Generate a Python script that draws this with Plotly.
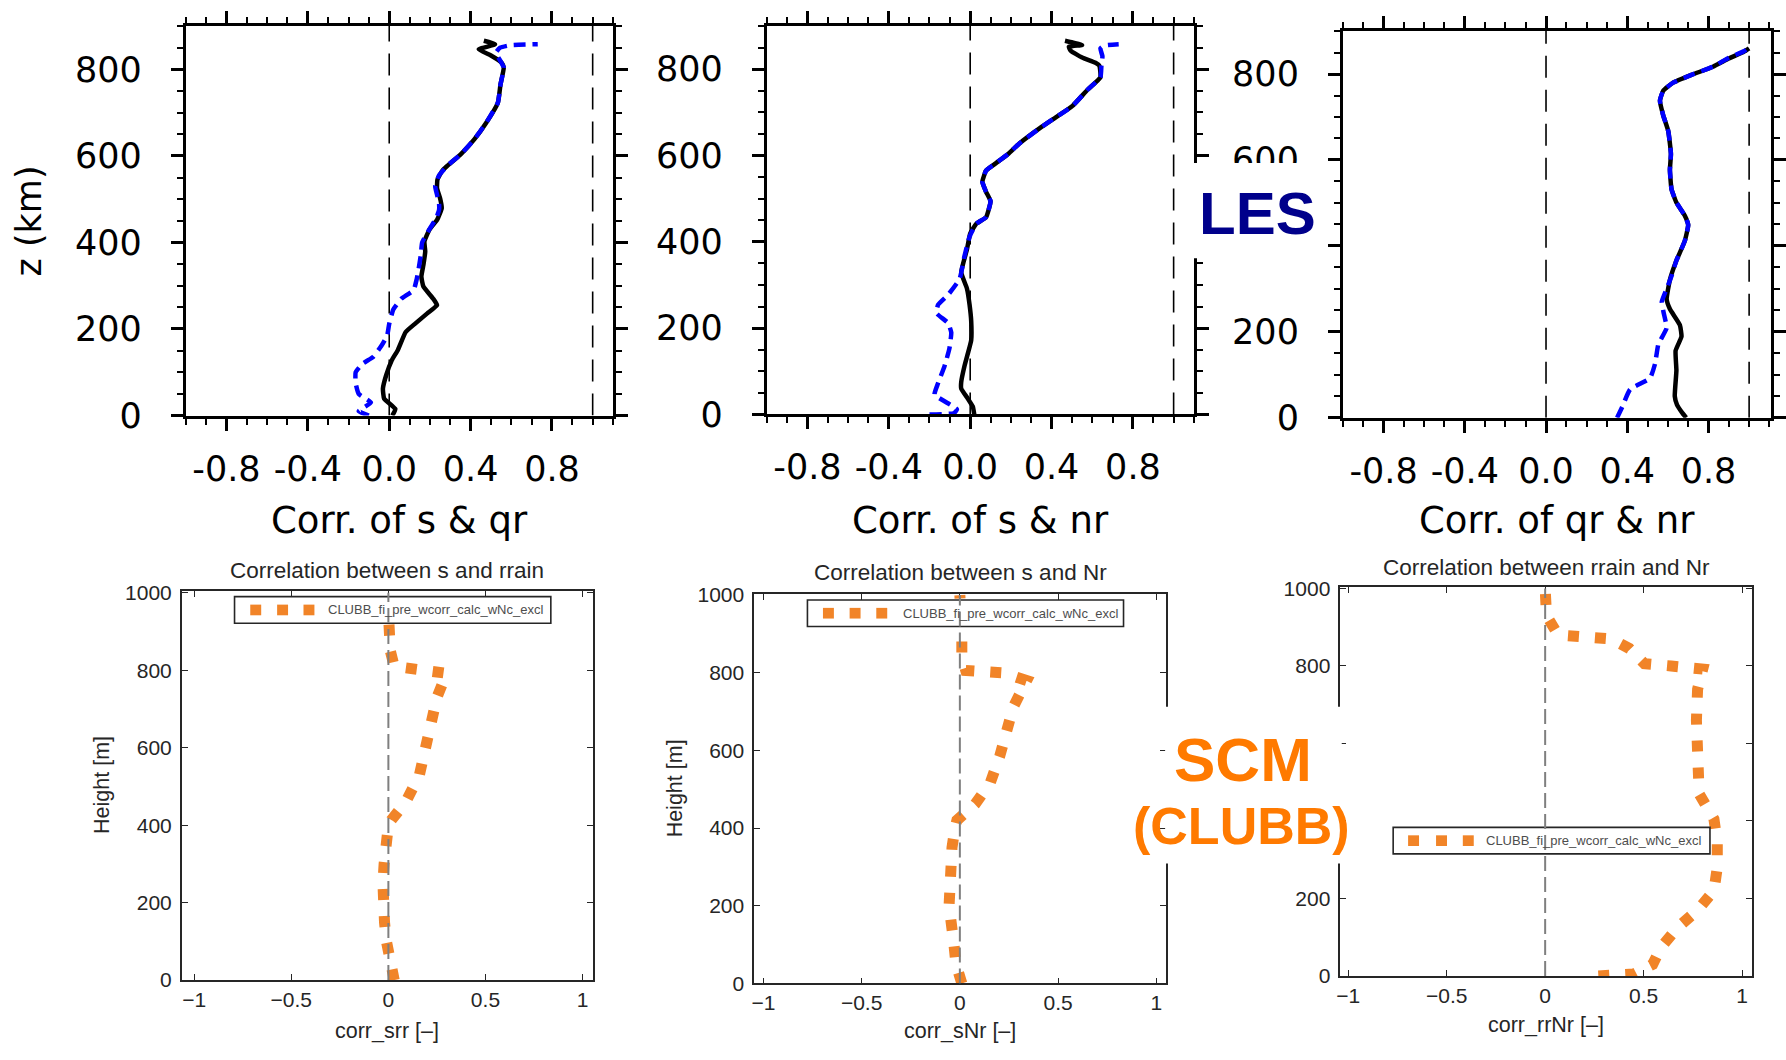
import plotly.graph_objects as go

W, H = 1786, 1060

# ---------------- LES profiles (top row) ----------------
# solid black = full-domain statistic, dashed blue = second LES estimate
les_sqr_z_solid = [0, 15, 39, 62, 93, 128, 151, 193, 213, 236, 255, 270, 298, 321, 348, 379, 402,
                   429, 452, 479, 502, 525, 545, 565, 576, 603, 638, 676, 723, 765, 804, 815, 832,
                   846, 858, 866]
les_sqr_solid = [0.015, 0.03, -0.025, -0.031, -0.015, 0.013, 0.042, 0.081, 0.129, 0.187, 0.235,
                 0.216, 0.168, 0.158, 0.168, 0.177, 0.173, 0.197, 0.235, 0.258, 0.25, 0.235, 0.237,
                 0.26, 0.283, 0.35, 0.418, 0.476, 0.534, 0.547, 0.563, 0.553, 0.50, 0.44, 0.52, 0.465]
les_sqr_z_dash = [0, 10, 30, 50, 75, 100, 120, 135, 160, 185, 212, 245, 270, 290, 315, 340, 370,
                  400, 430, 455, 475, 490, 510, 530, 555, 576, 603, 638, 676, 723, 765, 804, 819,
                  838, 850, 856, 858]
les_sqr_dash = [-0.10, -0.15, -0.09, -0.15, -0.165, -0.165, -0.13, -0.08, -0.04, -0.01, 0.0, 0.02,
                0.06, 0.12, 0.135, 0.145, 0.155, 0.162, 0.197, 0.23, 0.245, 0.245, 0.235, 0.226,
                0.245, 0.283, 0.35, 0.418, 0.476, 0.534, 0.547, 0.563, 0.547, 0.524, 0.545, 0.60, 0.73]

les_snr_z_solid = [0, 18, 37, 60, 75, 112, 142, 172, 216, 254, 292, 329, 382, 419, 442, 457, 494,
                   516, 539, 565, 580, 603, 628, 664, 688, 715, 753, 781, 808, 815, 827, 843, 852,
                   856, 862, 866]
les_snr_solid = [0.02, 0.013, -0.012, -0.044, -0.044, -0.028, -0.011, 0.005, 0.005, -0.003, -0.016,
                 -0.044, -0.016, 0.0, 0.03, 0.078, 0.10, 0.078, 0.06, 0.078, 0.12, 0.185, 0.242,
                 0.344, 0.419, 0.503, 0.578, 0.64, 0.635, 0.616, 0.55, 0.494, 0.485, 0.55, 0.503, 0.466]
les_snr_z_dash = [0, 3, 12, 46, 71, 112, 153, 190, 212, 235, 254, 277, 314, 367, 412, 442, 457,
                  494, 516, 539, 565, 580, 603, 628, 664, 688, 715, 753, 781, 808, 830, 848, 855, 858]
les_snr_dash = [-0.20, -0.08, -0.065, -0.175, -0.159, -0.126, -0.102, -0.093, -0.109, -0.166,
                -0.158, -0.109, -0.052, -0.028, -0.003, 0.03, 0.078, 0.10, 0.078, 0.06, 0.078, 0.12,
                0.185, 0.242, 0.344, 0.419, 0.503, 0.578, 0.64, 0.645, 0.65, 0.64, 0.66, 0.73]

les_qrnr_z_solid = [0, 12, 30, 50, 110, 156, 189, 216, 253, 276, 321, 366, 411, 449, 471, 501, 532,
                    577, 614, 667, 704, 738, 761, 780, 798, 817, 836, 852, 860]
les_qrnr_solid = [0.69, 0.67, 0.645, 0.634, 0.642, 0.638, 0.667, 0.659, 0.61, 0.594, 0.61, 0.642,
                  0.683, 0.70, 0.683, 0.642, 0.618, 0.61, 0.615, 0.602, 0.577, 0.561, 0.577, 0.626,
                  0.716, 0.822, 0.90, 0.974, 1.0]
les_qrnr_z_dash = [0, 24, 66, 92, 126, 171, 209, 247, 270, 300, 330, 366, 411, 449, 471, 501, 532,
                   577, 614, 667, 704, 738, 761, 780, 798, 817, 838, 853, 862]
les_qrnr_dash = [0.35, 0.374, 0.414, 0.512, 0.537, 0.553, 0.594, 0.578, 0.57, 0.594, 0.618, 0.642,
                 0.683, 0.70, 0.683, 0.642, 0.618, 0.61, 0.615, 0.602, 0.577, 0.561, 0.577, 0.626,
                 0.716, 0.822, 0.90, 0.974, 1.0]

# ---------------- SCM (CLUBB) profiles (bottom row) ----------------
scm_srr_z = [0, 40, 100, 150, 200, 250, 300, 350, 400, 414, 460, 530, 600, 670, 730, 792, 802, 810,
             850, 900, 950, 1000]
scm_srr = [0.03, 0.01, -0.01, -0.02, -0.03, -0.028, -0.022, -0.018, 0.0, 0.016, 0.09, 0.16, 0.19,
           0.22, 0.25, 0.30, 0.17, 0.03, 0.01, 0.0, 0.0, 0.0]

scm_snr_z = [0, 50, 100, 150, 200, 250, 300, 350, 400, 420, 462, 517, 587, 650, 712, 780, 800, 806,
             840, 900, 950, 1000]
scm_snr = [0.01, -0.02, -0.03, -0.04, -0.055, -0.05, -0.048, -0.04, -0.025, -0.015, 0.078, 0.155,
           0.204, 0.237, 0.272, 0.34, 0.22, 0.03, 0.01, 0.01, 0.005, 0.0]

scm_rrnr_z = [0, 5, 30, 75, 125, 170, 220, 280, 345, 405, 470, 530, 595, 660, 740, 792, 800, 806,
              845, 870, 875, 880, 930, 1000]
scm_rrnr = [0.27, 0.45, 0.546, 0.59, 0.673, 0.774, 0.857, 0.874, 0.874, 0.857, 0.782, 0.774, 0.774,
            0.768, 0.774, 0.80, 0.64, 0.504, 0.428, 0.336, 0.2, 0.066, 0.007, 0.0]

# axis ticks / labels
les_xticks = [-0.8, -0.4, 0.0, 0.4, 0.8]
les_xticktext = ["-0.8", "-0.4", "0.0", "0.4", "0.8"]
les_zticks = [0, 200, 400, 600, 800]
les_zticktext = [["0", "200", "400", "600", "800"],
                 ["0", "200", "400", "600", "800"],
                 ["0", "200", "", "600", "800"]]      # 400 sits under the LES label box
les_zrange = [0, 900]
les_xrange = [-1.0, 1.1]
les_ref_lines = [0.0, 1.0]
scm_xticks = [-1, -0.5, 0, 0.5, 1]
scm_zticks = [0, 200, 400, 600, 800, 1000]
scm_zticktext = [["0", "200", "400", "600", "800", "1000"],
                 ["0", "200", "400", "600", "800", "1000"],
                 ["0", "200", "", "", "800", "1000"]]   # 400/600 sit under the SCM label box
scm_ref_line = 0.0
scm_ref_top = 1000

les_titles = ["Corr. of s & qr", "Corr. of s & nr", "Corr. of qr & nr"]
scm_titles = ["Correlation between s and rrain", "Correlation between s and Nr",
              "Correlation between rrain and Nr"]
scm_xlabels = ["corr_srr [\u2013]", "corr_sNr [\u2013]", "corr_rrNr [\u2013]"]
legend_label = "CLUBB_fi_pre_wcorr_calc_wNc_excl"

# ---------------- layout geometry (pixels) ----------------
top_boxes = [((182.7, 612.1), (15.5, 416.7)),
             ((766.6, 1196.0), (15.5, 415.6)),
             ((1345.7, 1776.0), (20.7, 419.0))]
top_xranges = [les_xrange, les_xrange, [-1.0, 1.108]]
bot_boxes = [((178.7, 592.0), (597.3, 998.3), [-1.064, 1.054], [0, 1005]),
             ((754.0, 1168.0), (600.7, 1001.7), [-1.047, 1.05], [0, 1002.5]),
             ((1343.1, 1756.8), (593.3, 994.0), [-1.04, 1.05], [0, 1004])]


def fx(p):
    return p / W


def fy(p):
    return 1 - p / H


TOP_FONT = "DejaVu Sans"
BOT_FONT = "Liberation Sans, Arial"
INK = "#262626"
ORANGE = "#F18428"

fig = go.Figure()
layout = dict(width=W, height=H, margin=dict(l=0, r=0, t=0, b=0), autosize=False,
              paper_bgcolor="white", plot_bgcolor="white", showlegend=False)

les_sets = [(les_sqr_z_solid, les_sqr_solid, les_sqr_z_dash, les_sqr_dash),
            (les_snr_z_solid, les_snr_solid, les_snr_z_dash, les_snr_dash),
            (les_qrnr_z_solid, les_qrnr_solid, les_qrnr_z_dash, les_qrnr_dash)]

for i, (zs, xs, zd, xd) in enumerate(les_sets):
    n = i + 1
    xa, ya = ("x" if n == 1 else f"x{n}"), ("y" if n == 1 else f"y{n}")
    for v in les_ref_lines:
        fig.add_trace(go.Scatter(x=[v, v], y=les_zrange, mode="lines", xaxis=xa, yaxis=ya,
                                 line=dict(color="black", width=1.6, dash="22px,12px"),
                                 hoverinfo="skip"))
    fig.add_trace(go.Scatter(x=xs, y=zs, mode="lines", xaxis=xa, yaxis=ya,
                             line=dict(color="black", width=4.5, shape="spline", smoothing=0.4)))
    fig.add_trace(go.Scatter(x=xd, y=zd, mode="lines", xaxis=xa, yaxis=ya,
                             line=dict(color="#0000FF", width=4.5, dash="12px,7px",
                                       shape="spline", smoothing=0.4)))
    (x0, x1), (y0, y1) = top_boxes[i]
    common = dict(showline=True, linecolor="black", linewidth=3, mirror="ticks",
                  ticks="outside", ticklen=12, tickwidth=3, tickcolor="black",
                  showgrid=False, zeroline=False,
                  tickfont=dict(family=TOP_FONT, size=35, color="black"))
    layout["xaxis" if n == 1 else f"xaxis{n}"] = dict(
        common, domain=[fx(x0), fx(x1)], anchor=ya, range=top_xranges[i],
        tickmode="array", tickvals=les_xticks, ticktext=les_xticktext, ticklabelstandoff=8,
        minor=dict(ticks="outside", ticklen=6, tickwidth=2, tickcolor="black",
                   tickmode="linear", tick0=0, dtick=0.1))
    layout["yaxis" if n == 1 else f"yaxis{n}"] = dict(
        common, domain=[fy(y1), fy(y0)], anchor=xa, range=les_zrange, ticklabelstandoff=22,
        tickmode="array", tickvals=les_zticks, ticktext=les_zticktext[i],
        minor=dict(ticks="outside", ticklen=6, tickwidth=2, tickcolor="black",
                   tickmode="linear", tick0=0, dtick=50))

scm_sets = [(scm_srr_z, scm_srr), (scm_snr_z, scm_snr), (scm_rrnr_z, scm_rrnr)]
for i, (zc, xc) in enumerate(scm_sets):
    n = i + 4
    xa, ya = f"x{n}", f"y{n}"
    fig.add_trace(go.Scatter(x=xc, y=zc, mode="lines", xaxis=xa, yaxis=ya,
                             line=dict(color=ORANGE, width=11, dash="11px,16px")))
    (x0, x1), (y0, y1), xr, yr = bot_boxes[i]
    common = dict(showline=True, linecolor=INK, linewidth=1.6, mirror="ticks",
                  ticks="inside", ticklen=6, tickwidth=1.2, tickcolor=INK,
                  showgrid=False, zeroline=False,
                  tickfont=dict(family=BOT_FONT, size=21, color=INK))
    layout[f"xaxis{n}"] = dict(common, domain=[fx(x0), fx(x1)], anchor=ya, range=xr,
                               tickmode="array", tickvals=scm_xticks, ticklabelstandoff=0)
    layout[f"yaxis{n}"] = dict(common, domain=[fy(y1), fy(y0)], anchor=xa, range=yr,
                               tickmode="array", tickvals=scm_zticks,
                               ticktext=scm_zticktext[i], ticklabelstandoff=4)

shapes = []
annotations = []

# LES axis titles
for i, t in enumerate(les_titles):
    (x0, x1), (y0, y1) = top_boxes[i]
    annotations.append(dict(text=t, x=fx((x0 + x1) / 2), y=fy(525), xref="paper", yref="paper",
                            xanchor="center", yanchor="middle", showarrow=False,
                            font=dict(family=TOP_FONT, size=37, color="black")))
annotations.append(dict(text="z (km)", x=fx(25), y=fy(216), xref="paper", yref="paper",
                        xanchor="center", yanchor="middle", showarrow=False, textangle=-90,
                        font=dict(family=TOP_FONT, size=35, color="black")))

# SCM titles, axis labels, legend boxes
scm_title_y = [576.0, 578.5, 573.0]
scm_xlab_y = [1051.0, 1051.0, 1045.0]
scm_ylab_x = [99.0, 674.0, None]
legend_boxes = [((231.7, 549.6), (603.3, 630.7), [253.0, 280.0, 306.5], 324.0),
                ((807.5, 1125.2), (606.7, 634.0), [828.6, 855.4, 882.2], 901.3),
                ((1396.2, 1714.6), (841.0, 868.3), [1416.7, 1444.8, 1471.7], 1487.7)]

for i in range(3):
    (x0, x1), (y0, y1), xr, yr = bot_boxes[i]
    cx = (x0 + x1) / 2
    annotations.append(dict(text=scm_titles[i], x=fx(cx), y=fy(scm_title_y[i]), xref="paper",
                            yref="paper", xanchor="center", yanchor="middle", showarrow=False,
                            font=dict(family=BOT_FONT, size=22.5, color=INK)))
    annotations.append(dict(text=scm_xlabels[i], x=fx(cx), y=fy(scm_xlab_y[i]), xref="paper",
                            yref="paper", xanchor="center", yanchor="middle", showarrow=False,
                            font=dict(family=BOT_FONT, size=21.5, color=INK)))
    if scm_ylab_x[i] is not None:
        annotations.append(dict(text="Height [m]", x=fx(scm_ylab_x[i]), y=fy((y0 + y1) / 2),
                                xref="paper", yref="paper", xanchor="center", yanchor="middle",
                                showarrow=False, textangle=-90,
                                font=dict(family=BOT_FONT, size=21.5, color=INK)))
    (lx0, lx1), (ly0, ly1), sq, tx = legend_boxes[i]
    shapes.append(dict(type="rect", xref="paper", yref="paper", x0=fx(lx0), x1=fx(lx1),
                       y0=fy(ly1), y1=fy(ly0), fillcolor="white",
                       line=dict(color=INK, width=1.6), layer="above"))
    cy = (ly0 + ly1) / 2
    for s in sq:
        shapes.append(dict(type="rect", xref="paper", yref="paper", x0=fx(s - 5.5),
                           x1=fx(s + 5.5), y0=fy(cy + 5.5), y1=fy(cy - 5.5),
                           fillcolor=ORANGE, line=dict(width=0), layer="above"))
    annotations.append(dict(text=legend_label, x=fx(tx), y=fy(cy), xref="paper", yref="paper",
                            xanchor="left", yanchor="middle", showarrow=False,
                            font=dict(family=BOT_FONT, size=13, color="#4d4d4d")))
    # zero reference line, drawn over the curve and legend
    shapes.append(dict(type="line", xref=f"x{i + 4}", yref=f"y{i + 4}", x0=scm_ref_line,
                       x1=scm_ref_line, y0=0, y1=scm_ref_top,
                       line=dict(color="#7f7f7f", width=2, dash="15px,6px"), layer="above"))

# panel group labels on white boxes
shapes.append(dict(type="rect", xref="paper", yref="paper", x0=fx(1194), x1=fx(1326),
                   y0=fy(254.8), y1=fy(156.7), fillcolor="white", line=dict(width=0),
                   layer="above"))
shapes.append(dict(type="rect", xref="paper", yref="paper", x0=fx(1167), x1=fx(1344.5),
                   y0=fy(878.3), y1=fy(716.7), fillcolor="white", line=dict(width=0),
                   layer="above"))
annotations.append(dict(text="<b>LES</b>", x=fx(1259.5), y=fy(209), xref="paper", yref="paper",
                        xanchor="center", yanchor="middle", showarrow=False,
                        font=dict(family="Liberation Sans, Arial", size=60, color="#00008B")))
annotations.append(dict(text="<b>SCM</b>", x=fx(1245.4), y=fy(771.5), xref="paper", yref="paper",
                        xanchor="center", yanchor="middle", showarrow=False,
                        font=dict(family="Liberation Sans, Arial", size=62, color="#FF7A00")))
annotations.append(dict(text="<b>(CLUBB)</b>", x=fx(1244), y=fy(840), xref="paper", yref="paper",
                        xanchor="center", yanchor="middle", showarrow=False,
                        font=dict(family="Liberation Sans, Arial", size=52, color="#FF7A00")))

layout["shapes"] = shapes
layout["annotations"] = annotations
fig.update_layout(**layout)
fig.write_html("out.html")
